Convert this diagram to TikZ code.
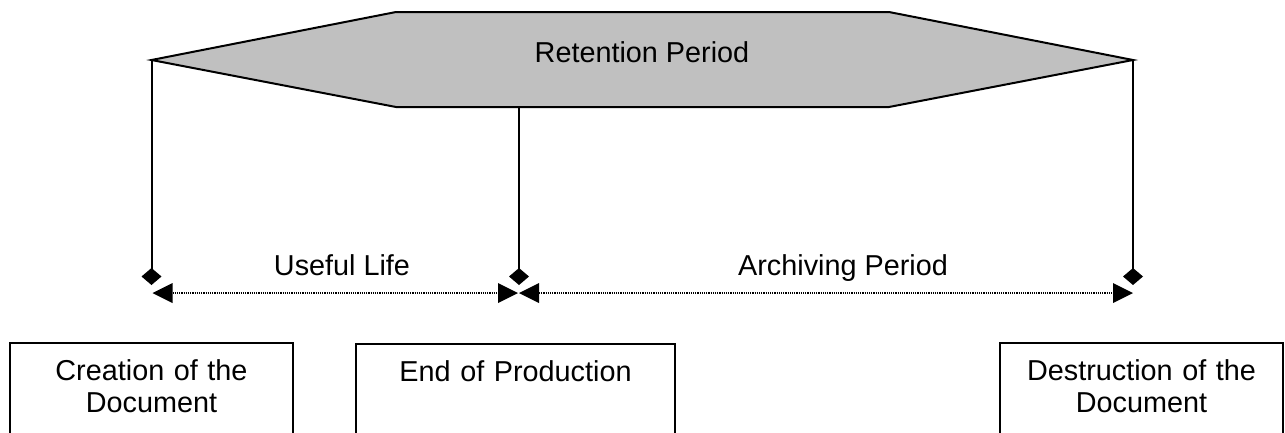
\documentclass[tikz,border=0pt]{standalone}
\usepackage{fontspec}
\setmainfont{Liberation Sans}
\usetikzlibrary{arrows.meta}
\definecolor{hexgray}{RGB}{192,192,192}
\begin{document}
\begin{tikzpicture}[x=1pt,y=-1pt,
  every node/.style={font=\fontsize{28.8}{32}\selectfont},
  box/.style={draw, line width=1.5pt, anchor=north, align=center, inner xsep=8pt, inner ysep=8pt, text height=30pt, text depth=90pt},
  stem/.style={line width=2pt, -{Diamond[length=17pt,width=20pt,line width=0pt]}},
  span/.style={line width=1.2pt, dash pattern=on 1.2pt off 1pt, {Triangle[length=20pt,width=20pt,line width=0pt]}-{Triangle[length=20pt,width=20pt,line width=0pt]}},
  hexa/.style={line width=2pt, fill=hexgray, line join=miter}
]
\clip (0,0) rectangle (1285,432);
\fill[white] (0,0) rectangle (1285,432);
% hexagon
\draw[hexa] (151.5,60) -- (396,12) -- (889,12) -- (1133,60) -- (889,107) -- (396,107) -- cycle;
\node[anchor=base] (ret) at (642,62) {Retention Period};
\coordinate (hl) at (151.5,60);
\coordinate (hr) at (1133,60);
\coordinate (hb) at (519,107);
\coordinate (dl) at (151.5,285);
\coordinate (dm) at (519,285);
\coordinate (dr) at (1133,285);
\coordinate (al) at (152.5,293);
\coordinate (am1) at (518,293);
\coordinate (am2) at (519,293);
\coordinate (ar) at (1133,293);
% stems
\draw[stem] (hl) -- (dl);
\draw[stem] (hb) -- (dm);
\draw[stem] (hr) -- (dr);
% spans
\draw[span] (al) -- (am1);
\draw[span] (am2) -- (ar);
\node[anchor=base] (useful) at (342,275) {Useful Life};
\node[anchor=base] (archiving) at (843,275) {Archiving Period};
% boxes
\node[box, text width=267pt] (create) at (151.5,342) {Creation of the\\Document};
\node[box, text width=303pt] (endprod) at (515.5,343) {End of Production};
\node[box, text width=267pt] (destroy) at (1141.5,342) {Destruction of the\\Document};
\end{tikzpicture}
\end{document}
